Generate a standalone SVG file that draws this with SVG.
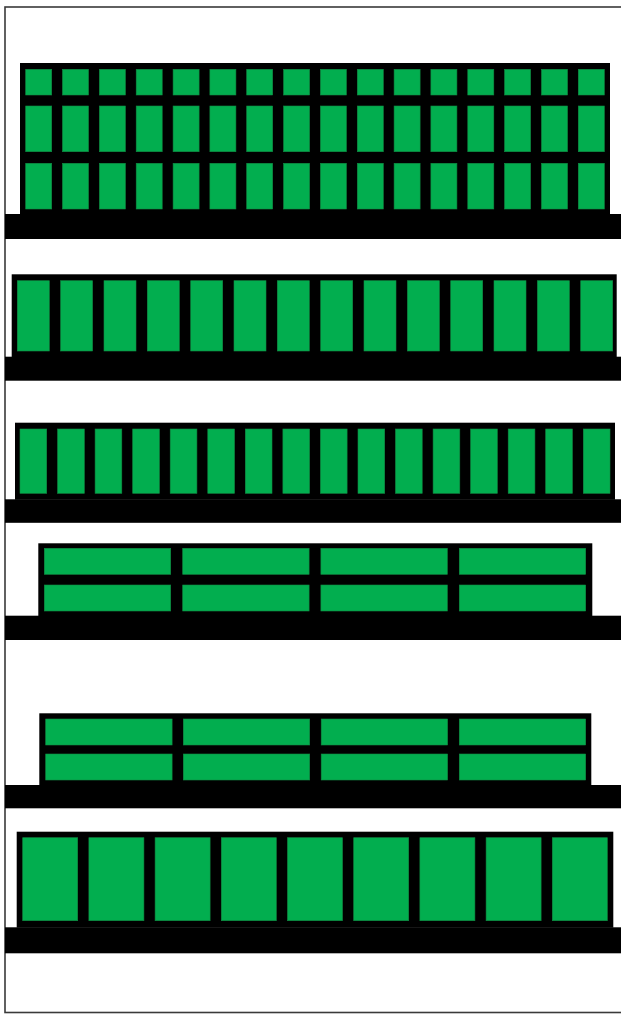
<svg xmlns="http://www.w3.org/2000/svg" width="621" height="1014" viewBox="0 0 621 1014">
<style>
.blk{fill:#000}
.g{fill:#02AE4F;stroke:#118a43;stroke-width:0.6}
.frame{fill:none;stroke:#3a3a3a;stroke-width:1.6}
</style>
<defs>
<rect id="b1a" class="g" width="26" height="25.7"/>
<rect id="b1b" class="g" width="26" height="45.7"/>
<rect id="b2" class="g" width="32" height="70.3"/>
<rect id="b3" class="g" width="26.7" height="64.3"/>
<rect id="b4" class="g" width="126.4" height="26"/>
<rect id="b6" class="g" width="55" height="83"/>
</defs>
<rect width="621" height="1014" fill="#fff"/>
<rect class="frame" x="5" y="7" width="630" height="1005.5"/>

<g id="shelf1">
<rect class="blk" x="20" y="63" width="590" height="152"/>
<rect class="blk" x="5" y="214" width="616" height="25"/>
<g id="shelf1-boxes">
<use href="#b1a" x="25.7" y="69.3"/><use href="#b1a" x="62.5" y="69.3"/><use href="#b1a" x="99.4" y="69.3"/><use href="#b1a" x="136.2" y="69.3"/><use href="#b1a" x="173.1" y="69.3"/><use href="#b1a" x="209.9" y="69.3"/><use href="#b1a" x="246.7" y="69.3"/><use href="#b1a" x="283.6" y="69.3"/><use href="#b1a" x="320.4" y="69.3"/><use href="#b1a" x="357.3" y="69.3"/><use href="#b1a" x="394.1" y="69.3"/><use href="#b1a" x="430.9" y="69.3"/><use href="#b1a" x="467.8" y="69.3"/><use href="#b1a" x="504.6" y="69.3"/><use href="#b1a" x="541.5" y="69.3"/><use href="#b1a" x="578.3" y="69.3"/>
<use href="#b1b" x="25.7" y="106"/><use href="#b1b" x="62.5" y="106"/><use href="#b1b" x="99.4" y="106"/><use href="#b1b" x="136.2" y="106"/><use href="#b1b" x="173.1" y="106"/><use href="#b1b" x="209.9" y="106"/><use href="#b1b" x="246.7" y="106"/><use href="#b1b" x="283.6" y="106"/><use href="#b1b" x="320.4" y="106"/><use href="#b1b" x="357.3" y="106"/><use href="#b1b" x="394.1" y="106"/><use href="#b1b" x="430.9" y="106"/><use href="#b1b" x="467.8" y="106"/><use href="#b1b" x="504.6" y="106"/><use href="#b1b" x="541.5" y="106"/><use href="#b1b" x="578.3" y="106"/>
<use href="#b1b" x="25.7" y="163.3"/><use href="#b1b" x="62.5" y="163.3"/><use href="#b1b" x="99.4" y="163.3"/><use href="#b1b" x="136.2" y="163.3"/><use href="#b1b" x="173.1" y="163.3"/><use href="#b1b" x="209.9" y="163.3"/><use href="#b1b" x="246.7" y="163.3"/><use href="#b1b" x="283.6" y="163.3"/><use href="#b1b" x="320.4" y="163.3"/><use href="#b1b" x="357.3" y="163.3"/><use href="#b1b" x="394.1" y="163.3"/><use href="#b1b" x="430.9" y="163.3"/><use href="#b1b" x="467.8" y="163.3"/><use href="#b1b" x="504.6" y="163.3"/><use href="#b1b" x="541.5" y="163.3"/><use href="#b1b" x="578.3" y="163.3"/>
</g>
</g>

<g id="shelf2">
<rect class="blk" x="11.7" y="274.3" width="605" height="83"/>
<rect class="blk" x="5" y="356.7" width="616" height="24"/>
<g id="shelf2-boxes">
<use href="#b2" x="17.3" y="280.7"/><use href="#b2" x="60.6" y="280.7"/><use href="#b2" x="104" y="280.7"/><use href="#b2" x="147.3" y="280.7"/><use href="#b2" x="190.7" y="280.7"/><use href="#b2" x="234" y="280.7"/><use href="#b2" x="277.3" y="280.7"/><use href="#b2" x="320.7" y="280.7"/><use href="#b2" x="364" y="280.7"/><use href="#b2" x="407.4" y="280.7"/><use href="#b2" x="450.7" y="280.7"/><use href="#b2" x="494" y="280.7"/><use href="#b2" x="537.4" y="280.7"/><use href="#b2" x="580.7" y="280.7"/>
</g>
</g>

<g id="shelf3">
<rect class="blk" x="15" y="422.7" width="600" height="77"/>
<rect class="blk" x="5" y="499.3" width="616" height="23.5"/>
<g id="shelf3-boxes">
<use href="#b3" x="20" y="429"/><use href="#b3" x="57.6" y="429"/><use href="#b3" x="95.1" y="429"/><use href="#b3" x="132.7" y="429"/><use href="#b3" x="170.2" y="429"/><use href="#b3" x="207.8" y="429"/><use href="#b3" x="245.3" y="429"/><use href="#b3" x="282.9" y="429"/><use href="#b3" x="320.4" y="429"/><use href="#b3" x="358" y="429"/><use href="#b3" x="395.5" y="429"/><use href="#b3" x="433.1" y="429"/><use href="#b3" x="470.6" y="429"/><use href="#b3" x="508.2" y="429"/><use href="#b3" x="545.7" y="429"/><use href="#b3" x="583.3" y="429"/>
</g>
</g>

<g id="shelf4">
<rect class="blk" x="38.3" y="543.3" width="554" height="73"/>
<rect class="blk" x="5" y="615.7" width="616" height="24.3"/>
<g id="shelf4-boxes">
<use href="#b4" x="44.3" y="548.3"/><use href="#b4" x="182.7" y="548.3"/><use href="#b4" x="320.9" y="548.3"/><use href="#b4" x="459.3" y="548.3"/>
<use href="#b4" x="44.3" y="585"/><use href="#b4" x="182.7" y="585"/><use href="#b4" x="320.9" y="585"/><use href="#b4" x="459.3" y="585"/>
</g>
</g>

<g id="shelf5">
<rect class="blk" x="39.3" y="713.3" width="552" height="72.5"/>
<rect class="blk" x="5" y="785" width="616" height="23.3"/>
<g id="shelf5-boxes">
<use href="#b4" x="45.7" y="719" height="24.3"/><use href="#b4" x="183.3" y="719"/><use href="#b4" x="321.2" y="719"/><use href="#b4" x="459.3" y="719"/>
<use href="#b4" x="45.7" y="754"/><use href="#b4" x="183.3" y="754"/><use href="#b4" x="321.2" y="754"/><use href="#b4" x="459.3" y="754"/>
</g>
</g>

<g id="shelf6">
<rect class="blk" x="16.7" y="831.7" width="596.6" height="96"/>
<rect class="blk" x="5" y="927.3" width="616" height="26"/>
<g id="shelf6-boxes">
<use href="#b6" x="22.7" y="837.7"/><use href="#b6" x="88.9" y="837.7"/><use href="#b6" x="155.1" y="837.7"/><use href="#b6" x="221.3" y="837.7"/><use href="#b6" x="287.5" y="837.7"/><use href="#b6" x="353.7" y="837.7"/><use href="#b6" x="419.9" y="837.7"/><use href="#b6" x="486.1" y="837.7"/><use href="#b6" x="552.3" y="837.7"/>
</g>
</g>
</svg>
